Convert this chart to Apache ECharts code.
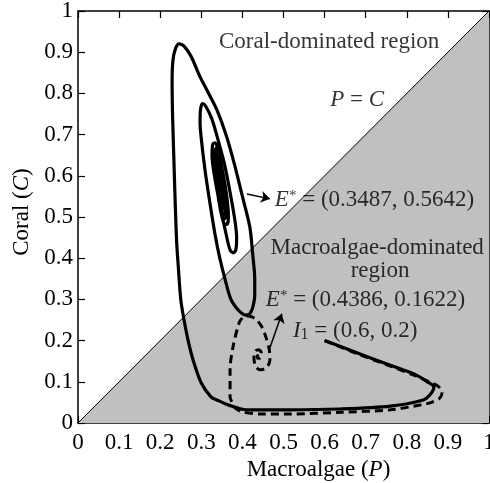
<!DOCTYPE html>
<html>
<head>
<meta charset="utf-8">
<script src="https://cdn.jsdelivr.net/npm/echarts@6/dist/echarts.min.js"></script>
<style>
  html, body { margin: 0; padding: 0; background: #fff; }
  #chart { width: 490px; height: 483px; }
</style>
</head>
<body>
<div id="chart"></div>
<script>
// P = C line (boundary between regions)
var diagonal = [[0, 0], [1, 1]];

// solid trajectory from I1 = (0.6, 0.2), spirals into E* = (0.3487, 0.5642)
var solidPath = [
  [0.6, 0.2], [0.68, 0.17], [0.76, 0.14], [0.82, 0.118], [0.85, 0.1], [0.866, 0.087],
  [0.856, 0.068], [0.84, 0.056], [0.76, 0.041], [0.637, 0.034], [0.516, 0.032], [0.41, 0.032],
  [0.365, 0.044], [0.338, 0.056], [0.324, 0.063], [0.30, 0.097], [0.28, 0.153], [0.268, 0.2],
  [0.258, 0.25], [0.25, 0.3], [0.244, 0.38], [0.24, 0.44], [0.236, 0.55], [0.233, 0.65],
  [0.23, 0.75], [0.229, 0.83], [0.231, 0.88], [0.237, 0.908], [0.246, 0.92], [0.258, 0.915],
  [0.275, 0.89], [0.297, 0.84], [0.318, 0.80], [0.338, 0.76], [0.36, 0.70], [0.38, 0.63],
  [0.40, 0.55], [0.418, 0.476], [0.425, 0.41], [0.43, 0.35], [0.43, 0.31], [0.425, 0.28],
  [0.418, 0.265], [0.41, 0.262], [0.40, 0.265], [0.385, 0.28], [0.372, 0.30], [0.36, 0.34],
  [0.345, 0.40], [0.333, 0.46], [0.32, 0.54], [0.309, 0.614], [0.30, 0.69], [0.297, 0.728],
  [0.298, 0.76], [0.303, 0.775], [0.31, 0.77], [0.325, 0.74], [0.34, 0.69], [0.356, 0.63],
  [0.37, 0.56], [0.382, 0.49], [0.386, 0.45], [0.384, 0.42], [0.378, 0.413], [0.37, 0.42],
  [0.36, 0.46], [0.345, 0.53], [0.332, 0.6], [0.326, 0.65], [0.328, 0.677], [0.334, 0.68],
  [0.342, 0.655], [0.352, 0.61], [0.362, 0.55], [0.366, 0.5], [0.362, 0.482], [0.355, 0.485],
  [0.347, 0.515], [0.338, 0.57], [0.333, 0.62], [0.333, 0.66], [0.337, 0.668], [0.344, 0.645],
  [0.353, 0.6], [0.36, 0.545], [0.361, 0.505], [0.356, 0.495], [0.35, 0.505], [0.343, 0.54],
  [0.337, 0.59], [0.336, 0.64], [0.339, 0.656], [0.344, 0.64], [0.351, 0.6], [0.357, 0.55],
  [0.358, 0.515], [0.354, 0.506], [0.349, 0.515], [0.344, 0.55], [0.339, 0.6], [0.339, 0.635],
  [0.342, 0.645], [0.347, 0.625], [0.353, 0.585], [0.356, 0.545], [0.354, 0.52], [0.35, 0.524],
  [0.345, 0.56], [0.341, 0.605], [0.342, 0.63], [0.345, 0.632], [0.35, 0.607], [0.354, 0.57],
  [0.353, 0.535], [0.349, 0.535], [0.345, 0.57], [0.344, 0.605], [0.347, 0.615], [0.351, 0.59],
  [0.352, 0.56], [0.349, 0.55], [0.347, 0.565], [0.3487, 0.5642]
];

// dashed trajectory, ends at E* = (0.4386, 0.1622)
var dashedPath = [
  [0.6, 0.2], [0.68, 0.168], [0.76, 0.138], [0.82, 0.115], [0.855, 0.1], [0.875, 0.09],
  [0.886, 0.075], [0.88, 0.06], [0.86, 0.05], [0.84, 0.045], [0.76, 0.032], [0.64, 0.026],
  [0.516, 0.022], [0.443, 0.022], [0.40, 0.027], [0.383, 0.036], [0.375, 0.05], [0.37, 0.063],
  [0.37, 0.129], [0.377, 0.184], [0.392, 0.243], [0.40, 0.255], [0.41, 0.26], [0.422, 0.258],
  [0.435, 0.25], [0.448, 0.232], [0.457, 0.209], [0.465, 0.18], [0.467, 0.153], [0.46, 0.136],
  [0.443, 0.129], [0.432, 0.138], [0.428, 0.16], [0.432, 0.175], [0.44, 0.178], [0.446, 0.17],
  [0.444, 0.158], [0.437, 0.157], [0.436, 0.165], [0.4386, 0.1622]
];

// arrows from equilibria to their labels
var arrowLines = [
  [[0.411, 0.556], [0.467, 0.544]],
  [[0.465, 0.177], [0.496, 0.265]]
];

var xTicks = [0, 0.1, 0.2, 0.3, 0.4, 0.5, 0.6, 0.7, 0.8, 0.9, 1];

var serif = 'Liberation Serif';
var fs = 23;
var chart = echarts.init(document.getElementById('chart'));

function tickText(v) {
  return String(+v.toFixed(1));
}

var richText = {
  i: { fontFamily: serif, fontSize: fs, fontStyle: 'italic', color: '#000' },
  sup: { fontFamily: serif, fontSize: 15, verticalAlign: 'top', color: '#000', padding: [0, 0, 8, 0] },
  sub: { fontFamily: serif, fontSize: 16, color: '#000', padding: [8, 0, 0, 0] }
};

function axisCommon(pos, showLabel) {
  return {
    type: 'value',
    min: xTicks[0],
    max: xTicks[xTicks.length - 1],
    interval: 0.1,
    position: pos,
    axisLine: { onZero: false, lineStyle: { color: '#000', width: 1.5 } },
    axisTick: { inside: true, length: 7, lineStyle: { color: '#000', width: 1.2 } },
    axisLabel: {
      show: showLabel, color: '#000', fontFamily: serif, fontSize: fs,
      margin: 5, formatter: tickText, showMinLabel: true, showMaxLabel: true
    },
    splitLine: { show: false }
  };
}

var xMain = axisCommon('bottom', true);
xMain.axisLabel.margin = 8;
xMain.name = '{n|Macroalgae (}{i|P}{n|)}';
xMain.nameLocation = 'middle';
xMain.nameGap = 28;
xMain.nameTextStyle = {
  padding: [0, 0, 0, 70],
  rich: { n: { fontFamily: serif, fontSize: fs, color: '#000' }, i: richText.i }
};

var yMain = axisCommon('left', true);
yMain.name = '{n|Coral (}{i|C}{n|)}';
yMain.nameLocation = 'middle';
yMain.nameGap = 44;
yMain.nameTextStyle = {
  padding: [0, 0, 0, 10],
  rich: { n: { fontFamily: serif, fontSize: fs, color: '#000' }, i: richText.i }
};

function note(p, c, text, align) {
  return {
    value: [p, c],
    label: { formatter: text, align: align }
  };
}

chart.setOption({
  animation: false,
  backgroundColor: '#fff',
  grid: { left: 78, top: 11, right: 1, bottom: 60, containLabel: false, outerBoundsMode: 'none' },
  xAxis: [xMain, axisCommon('top', false)],
  yAxis: [yMain, axisCommon('right', false)],
  series: [
    {
      type: 'line',
      data: diagonal,
      symbol: 'none',
      lineStyle: { color: '#000', width: 1 },
      areaStyle: { color: '#c0c0c0', opacity: 1 },
      z: 1
    },
    {
      type: 'line',
      data: dashedPath,
      symbol: 'none',
      smooth: 0.3,
      lineStyle: { color: '#000', width: 3, type: [8, 5] },
      z: 3
    },
    {
      type: 'line',
      data: solidPath,
      symbol: 'none',
      smooth: 0.3,
      lineStyle: { color: '#000', width: 3.2 },
      z: 4
    },
    {
      type: 'lines',
      coordinateSystem: 'cartesian2d',
      data: arrowLines.map(function(a) { return { coords: a }; }),
      symbol: ['none', 'arrow'],
      symbolSize: 9,
      lineStyle: { color: '#000', width: 1.5, opacity: 1 },
      z: 5
    },
    {
      type: 'scatter',
      symbolSize: 0,
      silent: true,
      z: 6,
      label: {
        show: true,
        position: 'inside',
        verticalAlign: 'middle',
        color: '#000',
        fontFamily: serif,
        fontSize: fs,
        rich: richText
      },
      data: [
        note(0.611, 0.925, 'Coral-dominated region', 'center'),
        note(0.679, 0.784, '{i|P} = {i|C}', 'center'),
        note(0.479, 0.541, '{i|E}{sup|*} = (0.3487, 0.5642)', 'left'),
        note(0.728, 0.425, 'Macroalgae-dominated', 'center'),
        note(0.735, 0.369, 'region', 'center'),
        note(0.457, 0.2985, '{i|E}{sup|*} = (0.4386, 0.1622)', 'left'),
        note(0.523, 0.223, '{i|I}{sub|1} = (0.6, 0.2)', 'left')
      ]
    }
  ]
});
</script>
</body>
</html>
